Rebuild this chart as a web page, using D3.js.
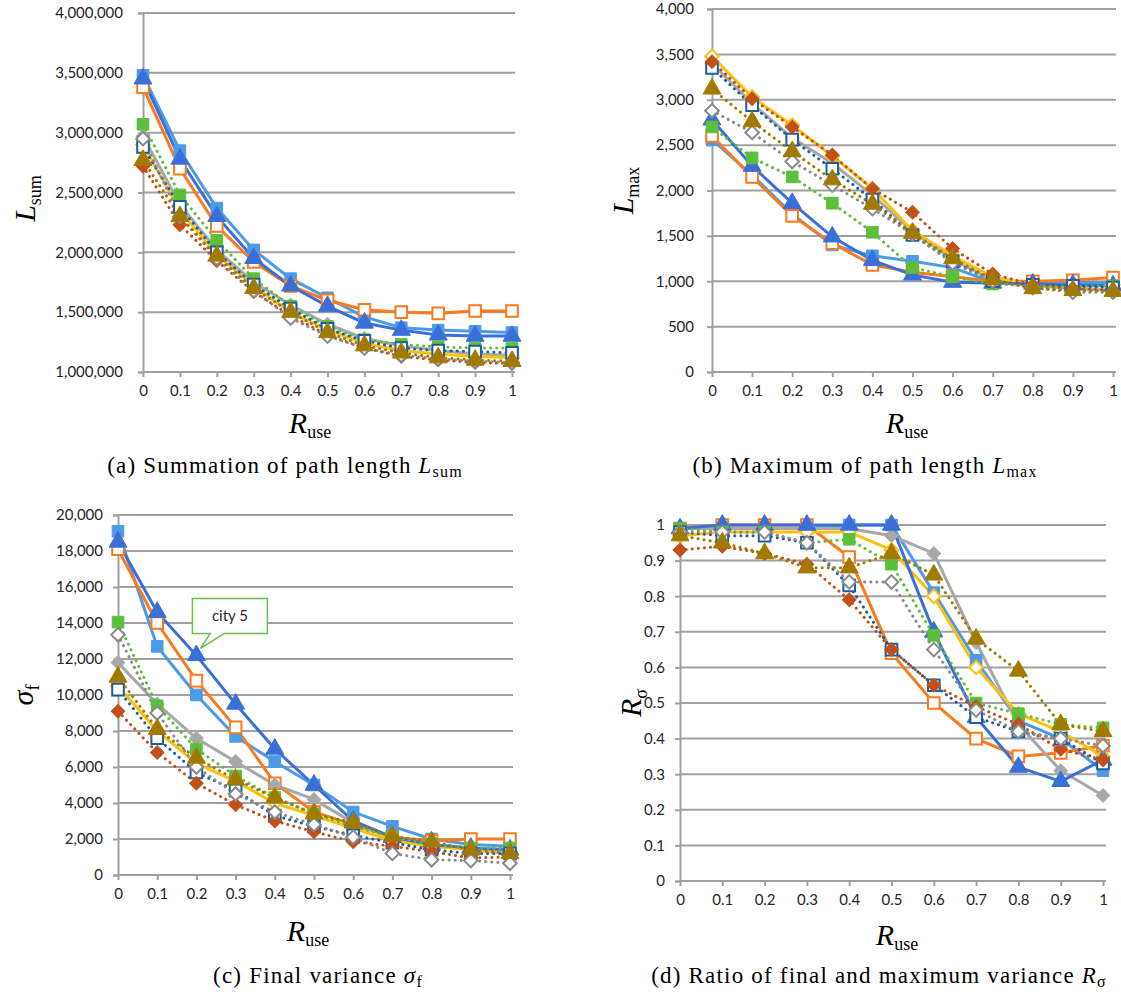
<!DOCTYPE html>
<html>
<head>
<meta charset="utf-8">
<script src="https://cdn.jsdelivr.net/npm/d3@7"></script>
<style>
body{margin:0;background:#fff}
</style>
</head>
<body>
<script>
// x values shared by all four panels
var rUse = [0, 0.1, 0.2, 0.3, 0.4, 0.5, 0.6, 0.7, 0.8, 0.9, 1];
var cityNames = ['city 1','city 2','city 3','city 4','city 5','city 6','city 7','city 8','city 9','city 10'];

// (a) L_sum
var lSumTicks = [1000000, 1500000, 2000000, 2500000, 3000000, 3500000, 4000000];
var lSum = [
  [3480000, 2850000, 2370000, 2020000, 1780000, 1620000, 1460000, 1370000, 1350000, 1340000, 1330000],
  [3380000, 2700000, 2220000, 1920000, 1720000, 1600000, 1520000, 1500000, 1490000, 1510000, 1510000],
  [2970000, 2400000, 2020000, 1750000, 1560000, 1400000, 1280000, 1220000, 1180000, 1150000, 1140000],
  [2900000, 2350000, 1980000, 1720000, 1500000, 1350000, 1240000, 1180000, 1150000, 1130000, 1120000],
  [3450000, 2780000, 2300000, 1950000, 1720000, 1550000, 1410000, 1350000, 1310000, 1300000, 1300000],
  [3070000, 2480000, 2100000, 1780000, 1550000, 1380000, 1270000, 1230000, 1210000, 1200000, 1200000],
  [2880000, 2380000, 2000000, 1730000, 1530000, 1360000, 1260000, 1200000, 1180000, 1170000, 1160000],
  [2720000, 2230000, 1930000, 1670000, 1470000, 1310000, 1200000, 1130000, 1100000, 1080000, 1070000],
  [2950000, 2300000, 1950000, 1680000, 1450000, 1300000, 1200000, 1140000, 1110000, 1090000, 1080000],
  [2770000, 2300000, 1970000, 1700000, 1500000, 1330000, 1220000, 1160000, 1120000, 1100000, 1090000]
];

// (b) L_max
var lMaxTicks = [0, 500, 1000, 1500, 2000, 2500, 3000, 3500, 4000];
var lMax = [
  [2560, 2170, 1740, 1400, 1280, 1220, 1150, 990, 1000, 990, 980],
  [2600, 2150, 1720, 1420, 1180, 1100, 1050, 1000, 1000, 1010, 1040],
  [3400, 2960, 2580, 2300, 1950, 1550, 1240, 1010, 950, 920, 900],
  [3480, 3030, 2720, 2380, 2020, 1560, 1280, 1050, 960, 940, 960],
  [2780, 2270, 1860, 1490, 1230, 1070, 990, 980, 970, 960, 950],
  [2700, 2360, 2150, 1860, 1540, 1150, 1050, 970, 950, 940, 950],
  [3350, 2940, 2560, 2240, 1900, 1510, 1220, 1000, 960, 950, 930],
  [3420, 3010, 2700, 2390, 2020, 1760, 1360, 1080, 960, 920, 900],
  [2880, 2640, 2320, 2060, 1800, 1520, 1200, 1000, 930, 880, 880],
  [3120, 2760, 2430, 2120, 1850, 1530, 1250, 1020, 920, 900, 890]
];

// (c) sigma_f
var sigmaTicks = [0, 2000, 4000, 6000, 8000, 10000, 12000, 14000, 16000, 18000, 20000];
var sigmaF = [
  [19100, 12700, 10000, 7700, 6300, 5000, 3500, 2700, 2000, 1700, 1600],
  [18100, 14000, 10800, 8200, 5100, 3500, 2800, 2100, 1900, 2000, 2000],
  [11800, 9500, 7600, 6300, 5000, 4200, 2900, 2100, 1700, 1400, 1200],
  [10500, 8000, 6200, 5200, 4000, 3300, 2600, 1900, 1600, 1400, 1200],
  [18500, 14600, 12200, 9500, 7000, 5000, 3000, 2100, 1700, 1500, 1400],
  [14050, 9400, 7000, 5500, 4300, 3400, 2700, 2100, 1700, 1500, 1500],
  [10300, 7600, 5700, 4700, 3300, 2700, 2200, 1800, 1400, 1200, 1200],
  [9100, 6800, 5100, 3900, 3000, 2400, 1850, 1600, 1300, 950, 1000],
  [13350, 9000, 6000, 4500, 3500, 2800, 2100, 1200, 850, 800, 650],
  [11000, 8100, 6500, 5300, 4300, 3400, 2900, 2150, 1850, 1400, 1200]
];

// (d) R_sigma
var rSigmaTicks = [0, 0.1, 0.2, 0.3, 0.4, 0.5, 0.6, 0.7, 0.8, 0.9, 1];
var rSigma = [
  [0.99, 0.99, 0.99, 0.99, 1.0, 1.0, 0.81, 0.62, 0.45, 0.40, 0.31],
  [0.99, 1.0, 1.0, 1.0, 0.91, 0.64, 0.50, 0.40, 0.35, 0.36, 0.38],
  [0.99, 0.99, 0.99, 0.99, 0.99, 0.97, 0.92, 0.67, 0.44, 0.31, 0.24],
  [0.97, 0.98, 0.98, 0.98, 0.98, 0.93, 0.80, 0.60, 0.47, 0.42, 0.35],
  [0.99, 1.0, 1.0, 1.0, 1.0, 1.0, 0.70, 0.46, 0.32, 0.28, 0.34],
  [0.99, 0.98, 0.98, 0.95, 0.96, 0.89, 0.69, 0.50, 0.47, 0.44, 0.43],
  [0.98, 0.97, 0.97, 0.95, 0.83, 0.65, 0.55, 0.46, 0.42, 0.40, 0.33],
  [0.93, 0.94, 0.92, 0.89, 0.79, 0.65, 0.55, 0.49, 0.44, 0.37, 0.34],
  [0.98, 0.98, 0.98, 0.95, 0.84, 0.84, 0.65, 0.48, 0.42, 0.40, 0.38],
  [0.97, 0.95, 0.92, 0.88, 0.88, 0.92, 0.86, 0.68, 0.59, 0.44, 0.42]
];

// line / marker style per city
var seriesStyle = [
  {color:'#4d9be6', dotted:false, marker:'square',   open:false},
  {color:'#fb7a1e', dotted:false, marker:'square',   open:true},
  {color:'#a8a8a8', dotted:false, marker:'diamond',  open:false},
  {color:'#fdc010', dotted:false, marker:'diamond',  open:true},
  {color:'#3b6fd8', dotted:false, marker:'triangle', open:false},
  {color:'#5cbf3c', dotted:true,  marker:'square',   open:false},
  {color:'#1f5f9f', dotted:true,  marker:'square',   open:true},
  {color:'#c2501a', dotted:true,  marker:'diamond',  open:false},
  {color:'#8a8a8a', dotted:true,  marker:'diamond',  open:true},
  {color:'#a37a00', dotted:true,  marker:'triangle', open:false}
];

var W = 1121, H = 994;
var svg = d3.select('body').append('svg').attr('width', W).attr('height', H);

var tickFont = 'Lato, "Open Sans", sans-serif';
var serif = '"Liberation Serif", "DejaVu Serif", serif';

var panels = [
  {data:lSum, ticks:lSumTicks, domain:[1000000,4000000], fmt:d3.format(','),
   x0:143, x1:512, yTop:13, yBot:372, labGap:20,
   yTitle:['L','sum'], yTitleX:24, yTitleShift:6, xTitleX:310, xTitleY:433,
   cap:['(a) Summation of path length ','L','sum'], capX:285, capY:473},
  {data:lMax, ticks:lMaxTicks, domain:[0,4000], fmt:d3.format(','),
   x0:712, x1:1113, yTop:9, yBot:372, labGap:18,
   yTitle:['L','max'], yTitleX:622, yTitleShift:0, xTitleX:907, xTitleY:433,
   cap:['(b) Maximum of path length ','L','max'], capX:865, capY:473},
  {data:sigmaF, ticks:sigmaTicks, domain:[0,20000], fmt:d3.format(','),
   x0:118, x1:510, yTop:515, yBot:875, labGap:15,
   yTitle:['σ','f'], yTitleX:22, yTitleShift:0, xTitleX:308, xTitleY:941,
   cap:['(c) Final variance ','σ','f'], capX:318, capY:983},
  {data:rSigma, ticks:rSigmaTicks, domain:[0,1], fmt:function(d){ return d===0?'0':d===1?'1':d3.format('.1f')(d); },
   x0:680, x1:1103, yTop:525, yBot:881, labGap:15,
   yTitle:['R','σ'], yTitleX:630, yTitleShift:0, xTitleX:897, xTitleY:945,
   cap:['(d) Ratio of final and maximum variance ','R','σ'], capX:879, capY:983}
];

function markerPath(kind){
  if(kind==='square') return d3.symbol().type(d3.symbolSquare).size(135)();
  if(kind==='diamond') return d3.symbol().type(d3.symbolSquare).size(92)();
  return d3.symbol().type(d3.symbolTriangle).size(140)();
}

panels.forEach(function(p, pi){
  var x = d3.scaleLinear().domain([0,1]).range([p.x0, p.x1]);
  var y = d3.scaleLinear().domain(p.domain).range([p.yBot, p.yTop]);
  var g = svg.append('g');

  // gridlines
  g.selectAll('.grid').data(p.ticks.filter(function(t){ return t !== p.domain[0]; }))
    .enter().append('line')
    .attr('x1', p.x0).attr('x2', p.x1 + 3)
    .attr('y1', function(d){ return y(d); }).attr('y2', function(d){ return y(d); })
    .style('stroke', '#a0a0a0').style('stroke-width', 2);

  // y axis
  var yAxis = d3.axisLeft(y).tickValues(p.ticks).tickFormat(p.fmt).tickSize(5).tickPadding(p.labGap - 5);
  var ya = g.append('g').attr('transform', 'translate(' + p.x0 + ',0)').call(yAxis);
  // x axis
  var xAxis = d3.axisBottom(x).tickValues(rUse).tickFormat(function(d){ return d===0?'0':d===1?'1':d3.format('.1f')(d); })
    .tickSize(5).tickPadding(8);
  var xa = g.append('g').attr('transform', 'translate(0,' + p.yBot + ')').call(xAxis);
  [ya, xa].forEach(function(a){
    a.select('.domain').style('stroke', '#a0a0a0').style('stroke-width', 2);
    a.selectAll('.tick line').style('stroke', '#a0a0a0').style('stroke-width', 2);
    a.selectAll('text').style('font-family', tickFont).style('font-size', '15px').style('fill', '#262626');
  });
  xa.select('.domain').attr('d', 'M' + p.x0 + ',0H' + (p.x1 + 3));

  // series lines
  var line = d3.line().x(function(d, i){ return x(rUse[i]); }).y(function(d){ return y(d); });
  p.data.forEach(function(vals, si){
    var st = seriesStyle[si];
    g.append('path').datum(vals).attr('d', line)
      .style('fill', 'none').style('stroke', st.color)
      .style('stroke-width', 3)
      .style('stroke-linecap', st.dotted ? 'round' : 'butt')
      .style('stroke-dasharray', st.dotted ? '0.1 6' : null);
  });
  // markers
  p.data.forEach(function(vals, si){
    var st = seriesStyle[si];
    g.selectAll('.m' + si).data(vals).enter().append('path')
      .attr('d', markerPath(st.marker))
      .attr('transform', function(d, i){
        return 'translate(' + x(rUse[i]) + ',' + y(d) + ')' + (st.marker==='diamond' ? ' rotate(45)' : '');
      })
      .style('fill', st.open ? '#fff' : st.color)
      .style('stroke', st.color)
      .style('stroke-width', st.open ? 2 : 1);
  });

  // y title (rotated)
  var yt = svg.append('text')
    .attr('transform', 'translate(' + p.yTitleX + ',' + ((p.yTop + p.yBot) / 2 + p.yTitleShift) + ') rotate(-90)')
    .attr('text-anchor', 'middle').attr('dy', '0.35em')
    .style('font-family', serif).style('font-size', '30px');
  yt.append('tspan').style('font-style', 'italic').text(p.yTitle[0]);
  yt.append('tspan').attr('dy', 6).style('font-size', '18px').text(p.yTitle[1]);

  // x title
  var xt = svg.append('text').attr('x', p.xTitleX).attr('y', p.xTitleY)
    .attr('text-anchor', 'middle')
    .style('font-family', serif).style('font-size', '30px');
  xt.append('tspan').style('font-style', 'italic').text('R');
  xt.append('tspan').attr('dy', 5).style('font-size', '18px').text('use');

  // caption
  var ct = svg.append('text').attr('x', p.capX).attr('y', p.capY)
    .attr('text-anchor', 'middle')
    .style('font-family', serif).style('font-size', '23px').style('letter-spacing', '1.2px');
  ct.append('tspan').text(p.cap[0]);
  ct.append('tspan').style('font-style', 'italic').text(p.cap[1]);
  ct.append('tspan').attr('dy', 4).style('font-size', '16px').text(p.cap[2]);

  // callout for city 5 in panel (c)
  if(pi === 2){
    var px = x(rUse[2]), py = y(sigmaF[4][2]);
    var l = px - 4, r = px + 71, t = py - 57, b = py - 22;
    var pts = [[l,t],[r,t],[r,b],[px+28,b],[px+4,py-7],[px+14,b],[l,b]];
    svg.append('path').attr('d', 'M' + pts.join('L') + 'Z')
      .style('fill', '#fff').style('stroke', '#6cc04a').style('stroke-width', 1.5);
    svg.append('text').attr('x', (l + r) / 2).attr('y', (t + b) / 2).attr('dy', '0.35em')
      .attr('text-anchor', 'middle')
      .style('font-family', tickFont).style('font-size', '15px').style('fill', '#2a2a2a')
      .text(cityNames[4]);
  }
});
</script>
</body>
</html>
